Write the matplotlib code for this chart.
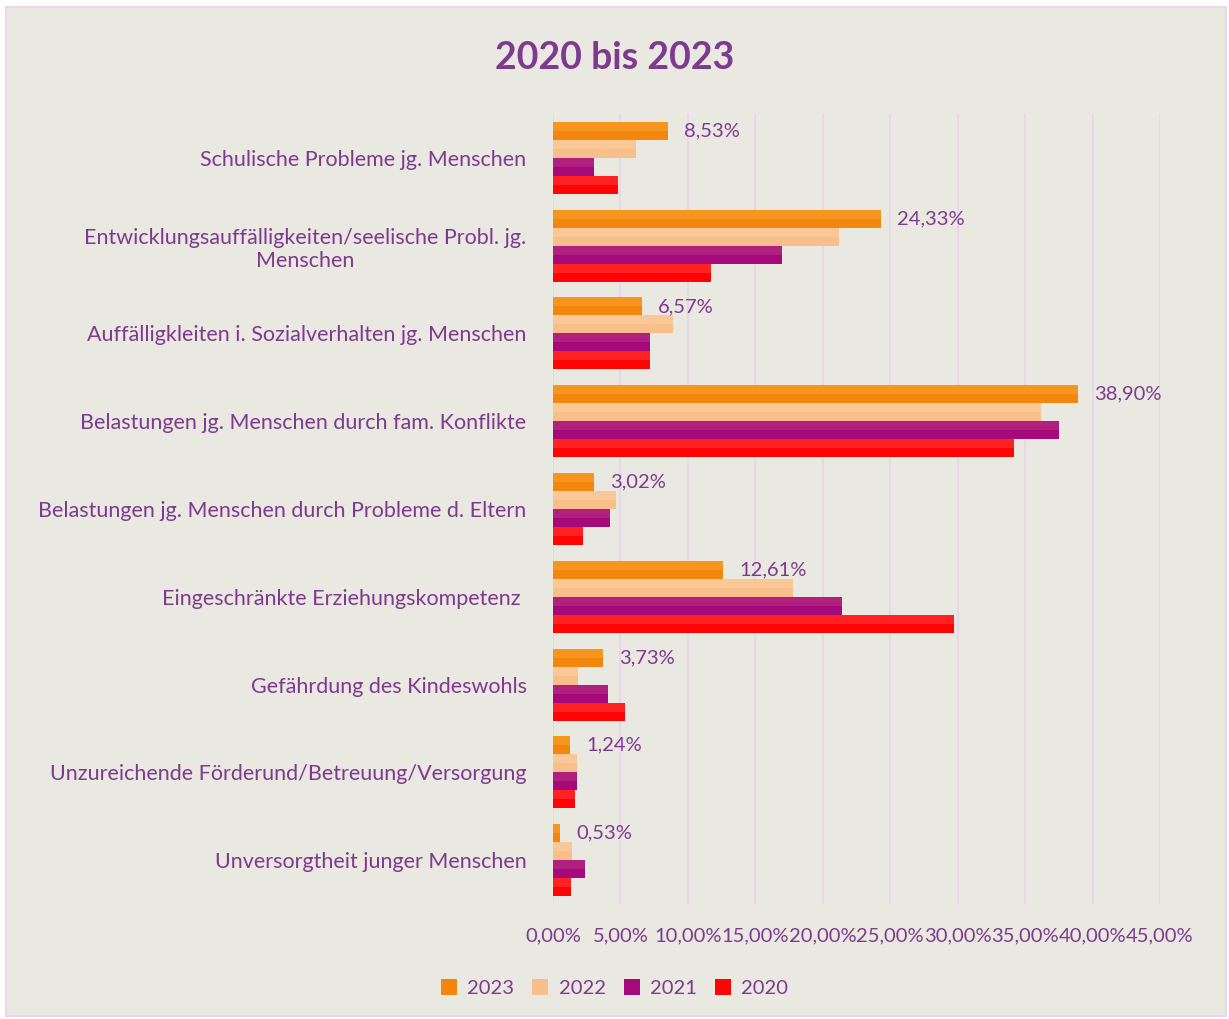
import numpy as np
import matplotlib.pyplot as plt
from matplotlib.patches import Rectangle
from matplotlib.ticker import FuncFormatter, MultipleLocator

categories = [
    "Schulische Probleme jg. Menschen",
    "Entwicklungsauffälligkeiten/seelische Probl. jg.\nMenschen",
    "Auffälligkleiten i. Sozialverhalten jg. Menschen",
    "Belastungen jg. Menschen durch fam. Konflikte",
    "Belastungen jg. Menschen durch Probleme d. Eltern",
    "Eingeschränkte Erziehungskompetenz ",
    "Gefährdung des Kindeswohls",
    "Unzureichende Förderund/Betreuung/Versorgung",
    "Unversorgtheit junger Menschen",
]
years = ["2023", "2022", "2021", "2020"]
v2023 = [8.53, 24.33, 6.57, 38.90, 3.02, 12.61, 3.73, 1.24, 0.53]
v2022 = [6.15, 21.2, 8.9, 36.2, 4.65, 17.8, 1.85, 1.75, 1.4]
v2021 = [3.05, 17.0, 7.2, 37.5, 4.25, 21.4, 4.05, 1.75, 2.35]
v2020 = [4.8, 11.7, 7.2, 34.2, 2.2, 29.75, 5.35, 1.65, 1.35]
series = [v2023, v2022, v2021, v2020]
colors = ["#F3860C", "#F8BF8A", "#A60A7A", "#FF0404"]
highlights = ["#F7961F", "#FAC896", "#B0207F", "#FF2222"]

purple = "#7E3A8E"
bg = "#E9E8E1"
plt.rcParams['font.family'] = ['Lato', 'DejaVu Sans']

fig = plt.figure(figsize=(12.29, 10.19), dpi=100)
fig.patch.set_facecolor("white")
fig.patches.append(Rectangle((6 / 1229, 3 / 1019), 1 - 9 / 1229, 1 - 10 / 1019,
                             transform=fig.transFigure, facecolor=bg,
                             edgecolor="#EBD6EE", lw=1.5, zorder=-10))

ax = fig.add_axes([553 / 1229, 1 - 904 / 1019, (1160 - 553) / 1229, (904 - 114) / 1019])
ax.set_facecolor("none")

y = np.arange(len(categories))
h = 0.205
for i, (vals, c, hc) in enumerate(zip(series, colors, highlights)):
    pos = y - 1.5 * h + i * h
    ax.barh(pos, vals, height=h, color=c, edgecolor="none", label=years[i], zorder=3)
    # light upper part, like the soft gradient in the original
    ax.barh(pos - h * 0.25, vals, height=h * 0.5, color=hc, edgecolor="none", zorder=3)

for yy, v in zip(y - 1.5 * h, v2023):
    ax.text(v + 1.2, yy, f"{v:.2f}%".replace(".", ","), va="center", ha="left",
            color=purple, fontsize=14.5)

ax.set_xlim(0, 45)
ax.set_ylim(len(categories) - 0.5, -0.5)
ax.xaxis.set_major_locator(MultipleLocator(5))
ax.xaxis.set_major_formatter(FuncFormatter(lambda x, p: f"{x:.2f}%".replace(".", ",")))
ax.grid(axis="x", color="#E9D3EC", lw=1.2, zorder=0)
ax.set_yticks(y)
ax.set_yticklabels(categories, multialignment="center")
ax.tick_params(axis="y", length=0, pad=19, labelsize=15.5, labelcolor=purple)
ax.tick_params(axis="x", length=0, pad=17, labelsize=14.5, labelcolor=purple)
for s in ax.spines.values():
    s.set_visible(False)

fig.text(0.5, 1 - 58 / 1019, "2020 bis 2023", ha="center", va="center",
         fontsize=27, fontweight="bold", color=purple)

handles, labels = ax.get_legend_handles_labels()
leg = fig.legend(handles, labels, loc="center", bbox_to_anchor=(0.5, 1 - 988 / 1019),
                 ncol=4, frameon=False, fontsize=14.5, handlelength=0.8, handleheight=0.8,
                 columnspacing=0.9, handletextpad=0.5)
for t in leg.get_texts():
    t.set_color(purple)

fig.savefig("out.png", dpi=100, facecolor=fig.get_facecolor())
